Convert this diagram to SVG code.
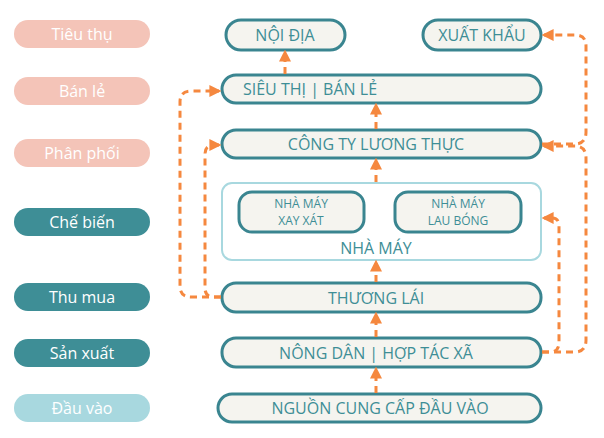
<svg xmlns="http://www.w3.org/2000/svg" width="604" height="438" viewBox="0 0 604 438">
<style>
.pill{stroke:none}
.lt{font-family:"Open Sans","Liberation Sans",sans-serif;font-size:16px;fill:#fff;text-anchor:middle}
.nd{fill:#f5f4ef;stroke:#3a8590;stroke-width:3}
.nt{font-family:"Open Sans","Liberation Sans",sans-serif;font-size:16px;fill:#3e8e96;text-anchor:middle}
.st{font-family:"Open Sans","Liberation Sans",sans-serif;font-size:12px;fill:#3e8e96;text-anchor:middle}
.c{fill:none;stroke:#f5883f;stroke-width:3;stroke-dasharray:7 5}
</style>
<defs>
<marker id="a" viewBox="0 0 10 10" refX="8" refY="5" markerWidth="4" markerHeight="4" orient="auto"><path d="M0,0L10,5L0,10z" fill="#f5883f"/></marker>
</defs>
<rect width="604" height="438" fill="#fff"/>
<g id="labels">
<rect class="pill" x="14" y="20" width="136" height="28" rx="14" fill="#f4c4b8"/><text class="lt" x="82" y="40">Tiêu thụ</text>
<rect class="pill" x="14" y="77" width="136" height="28" rx="14" fill="#f4c4b8"/><text class="lt" x="82" y="97">Bán lẻ</text>
<rect class="pill" x="14" y="139" width="136" height="28" rx="14" fill="#f4c4b8"/><text class="lt" x="82" y="159">Phân phối</text>
<rect class="pill" x="14" y="208" width="136" height="28" rx="14" fill="#3e8e96"/><text class="lt" x="82" y="228">Chế biến</text>
<rect class="pill" x="14" y="283" width="136" height="28" rx="14" fill="#3e8e96"/><text class="lt" x="82" y="303">Thu mua</text>
<rect class="pill" x="14" y="339" width="136" height="28" rx="14" fill="#3e8e96"/><text class="lt" x="82" y="359">Sản xuất</text>
<rect class="pill" x="14" y="394" width="136" height="28" rx="14" fill="#a8d8df"/><text class="lt" x="82" y="414">Đầu vào</text>
</g>
<g id="noidia"><rect class="nd" x="226" y="20" width="119" height="30" rx="15"/><text class="nt" x="285" y="41">NỘI ĐỊA</text></g>
<g id="xuatkhau"><rect class="nd" x="423" y="20" width="118" height="30" rx="15"/><text class="nt" x="482" y="41">XUẤT KHẨU</text></g>
<g id="sieuthi"><rect class="nd" x="222" y="75" width="319" height="28" rx="14"/><text class="nt" x="310" y="95">SIÊU THỊ | BÁN LẺ</text></g>
<g id="congty"><rect class="nd" x="222" y="130" width="319" height="28" rx="14"/><text class="nt" x="376" y="150">CÔNG TY LƯƠNG THỰC</text></g>
<g id="nhamay"><rect x="222" y="183" width="319" height="77" rx="10" fill="#fff" stroke="#a8d8df" stroke-width="2"/><text class="nt" x="376" y="254">NHÀ MÁY</text></g>
<g id="xayxat"><rect class="nd" x="239" y="192" width="125" height="40" rx="13"/><text class="st" x="301" y="208">NHÀ MÁY</text><text class="st" x="301" y="225">XAY XÁT</text></g>
<g id="laubong"><rect class="nd" x="395" y="192" width="126" height="40" rx="13"/><text class="st" x="458" y="208">NHÀ MÁY</text><text class="st" x="458" y="225">LAU BÓNG</text></g>
<g id="thuonglai"><rect class="nd" x="222" y="283" width="319" height="29" rx="14"/><text class="nt" x="376" y="304">THƯƠNG LÁI</text></g>
<g id="nongdan"><rect class="nd" x="222" y="338" width="319" height="29" rx="14"/><text class="nt" x="376" y="359">NÔNG DÂN | HỢP TÁC XÃ</text></g>
<g id="nguon"><rect class="nd" x="218" y="394" width="323" height="28" rx="14"/><text class="nt" x="380" y="414">NGUỒN CUNG CẤP ĐẦU VÀO</text></g>
<g id="connectors">
<path class="c" d="M376,393V369" marker-end="url(#a)"/>
<path class="c" d="M376,337V314" marker-end="url(#a)"/>
<path class="c" d="M376,282V262" marker-end="url(#a)"/>
<path class="c" d="M376,182V160" marker-end="url(#a)"/>
<path class="c" d="M376,129V105" marker-end="url(#a)"/>
<path class="c" d="M285,74V52" marker-end="url(#a)"/>
<path class="c" d="M542,144H575Q586,144 586,132V46Q586,35 575,35H544" marker-end="url(#a)"/>
<path class="c" d="M542,352H575Q586,352 586,340V158Q586,146 575,146H544" marker-end="url(#a)"/>
<path class="c" d="M542,352H550Q559,352 559,342V226Q559,218 552,218H544" marker-end="url(#a)"/>
<path class="c" d="M221,297H191Q180,297 180,286V102Q180,91 191,91H219" marker-end="url(#a)"/>
<path class="c" d="M221,297H214Q205,297 205,288V154Q205,145 214,145H219" marker-end="url(#a)"/>
</g>
</svg>
